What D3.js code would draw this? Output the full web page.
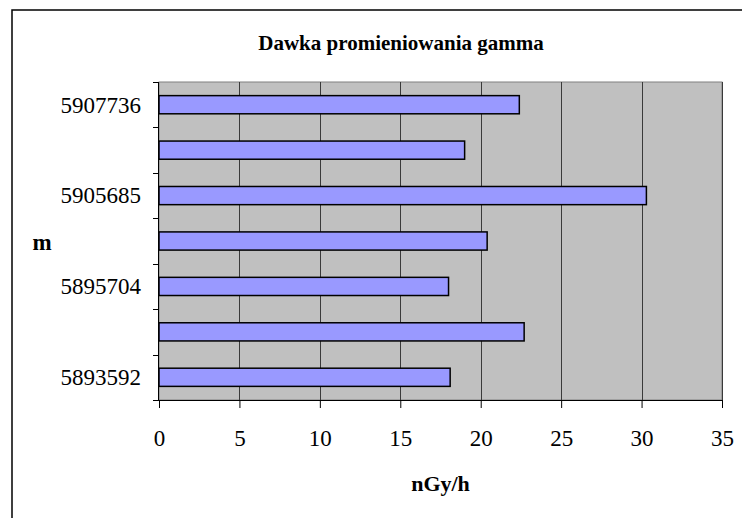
<!DOCTYPE html>
<html>
<head>
<meta charset="utf-8">
<script src="https://cdn.jsdelivr.net/npm/d3@7"></script>
<style>
  body { margin: 0; background: #fff; }
  text { font-family: "Liberation Serif", "Times New Roman", serif; }
</style>
</head>
<body>
<div id="chart"></div>
<script>
// categories, bottom to top (only every other one is labelled)
const categories = ["5893592", "", "5895704", "", "5905685", "", "5907736"];
const doseValues = [18.1, 22.7, 18.0, 20.4, 30.3, 19.0, 22.4];
const xTicks = [0, 5, 10, 15, 20, 25, 30, 35];

const W = 742, H = 518;
const plot = {left: 159, right: 722, top: 82, bottom: 400};

const svg = d3.select("#chart")
  .append("svg")
    .attr("width", W)
    .attr("height", H);

// chart frame
svg.append("rect")
  .attr("x", 12).attr("y", 10)
  .attr("width", W + 20).attr("height", H + 20)
  .attr("fill", "#fff")
  .attr("stroke", "#000")
  .attr("stroke-width", 1.5);

// title
svg.append("text")
  .attr("x", 401)
  .attr("y", 50)
  .attr("text-anchor", "middle")
  .attr("font-size", "21px")
  .attr("font-weight", "bold")
  .text("Dawka promieniowania gamma");

// scales
const x = d3.scaleLinear()
  .domain([0, 35])
  .range([plot.left, plot.right]);

const y = d3.scaleBand()
  .domain(d3.range(categories.length))
  .range([plot.bottom, plot.top])
  .paddingInner(0.6)
  .paddingOuter(0.3);

// plot area
svg.append("rect")
  .attr("x", plot.left).attr("y", plot.top)
  .attr("width", plot.right - plot.left)
  .attr("height", plot.bottom - plot.top)
  .attr("fill", "#c0c0c0")
  .attr("stroke", "#808080")
  .attr("stroke-width", 1);

// vertical gridlines
svg.append("g")
  .selectAll("line")
  .data(xTicks.slice(1))
  .join("line")
    .attr("x1", d => Math.round(x(d)) + 0.5)
    .attr("x2", d => Math.round(x(d)) + 0.5)
    .attr("y1", plot.top)
    .attr("y2", plot.bottom)
    .attr("stroke", "#3a3a3a")
    .attr("stroke-width", 1);

// bars
svg.append("g")
  .selectAll("rect")
  .data(doseValues)
  .join("rect")
    .attr("x", x(0))
    .attr("y", (d, i) => y(i))
    .attr("width", d => x(d) - x(0))
    .attr("height", y.bandwidth())
    .attr("fill", "#9999ff")
    .attr("stroke", "#000")
    .attr("stroke-width", 1.5);

// x axis
const xAxis = svg.append("g")
  .attr("transform", "translate(0," + plot.bottom + ")")
  .call(d3.axisBottom(x).tickValues(xTicks).tickSize(8).tickPadding(22));
xAxis.select(".domain").attr("stroke", "#000");
xAxis.selectAll("text")
  .attr("font-size", "23px")
  .attr("font-family", "Liberation Serif, Times New Roman, serif")
  .attr("fill", "#000");

// y axis: ticks on the band boundaries, labels at band centres
const step = y.step();
const boundaries = d3.range(categories.length + 1).map(i => plot.bottom - i * step);
const yAxis = svg.append("g");
yAxis.append("line")
  .attr("x1", plot.left - 0.5).attr("x2", plot.left - 0.5)
  .attr("y1", plot.top).attr("y2", plot.bottom)
  .attr("stroke", "#000");
yAxis.selectAll(".tk")
  .data(boundaries)
  .join("line")
    .attr("class", "tk")
    .attr("x1", plot.left - 6).attr("x2", plot.left)
    .attr("y1", d => Math.round(d) + 0.5)
    .attr("y2", d => Math.round(d) + 0.5)
    .attr("stroke", "#000");
yAxis.selectAll("text")
  .data(categories)
  .join("text")
    .attr("x", plot.left - 18)
    .attr("y", (d, i) => y(i) + y.bandwidth() / 2)
    .attr("dy", "0.34em")
    .attr("text-anchor", "end")
    .attr("font-size", "23px")
    .text(d => d);

// axis titles
svg.append("text")
  .attr("x", (plot.left + plot.right) / 2)
  .attr("y", 491)
  .attr("text-anchor", "middle")
  .attr("font-size", "22px")
  .attr("font-weight", "bold")
  .text("nGy/h");

svg.append("text")
  .attr("x", 42)
  .attr("y", 250)
  .attr("text-anchor", "middle")
  .attr("font-size", "23px")
  .attr("font-weight", "bold")
  .text("m");
</script>
</body>
</html>
